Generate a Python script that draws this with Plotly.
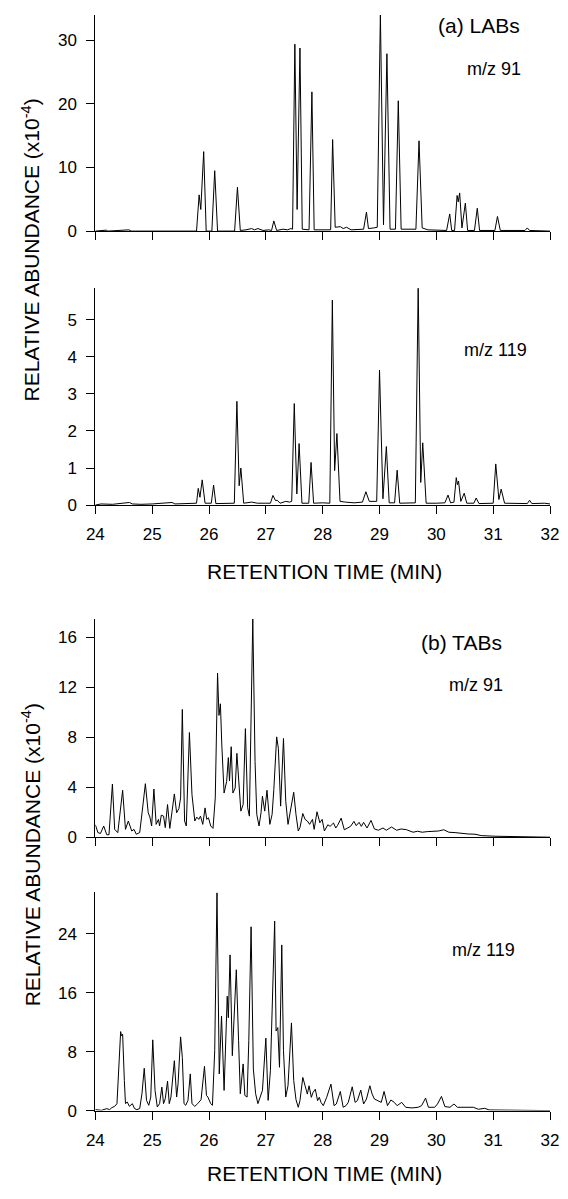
import plotly.graph_objects as go

# ---------------- data: (retention time [min], relative abundance) vertices ----------------
lab91 = [
    (24.0, 0), (24.19, 0.15), (24.22, 0), (24.59, 0.2), (24.63, 0), (25.78, 0),
    (25.826, 5.7), (25.855, 3.4), (25.906, 12.5), (25.95, 0), (26.05, 0), (26.10, 9.5), (26.15, 0),
    (26.45, 0), (26.50, 6.9), (26.55, 0.1), (26.65, 0.2), (26.75, 0.4), (26.80, 0.2), (26.86, 0.4),
    (26.95, 0.1), (27.05, 0.2), (27.10, 0.1), (27.14, 1.6), (27.19, 0.1), (27.30, 0.3), (27.38, 0.2),
    (27.44, 0.4), (27.47, 0.3), (27.51, 29.4), (27.55, 3.4), (27.60, 28.8), (27.64, 0.3), (27.76, 0.2),
    (27.81, 21.9), (27.85, 0.2), (28.14, 0.2), (28.175, 14.4), (28.22, 0.6), (28.31, 0.7), (28.36, 0.4),
    (28.42, 0.6), (28.50, 0.2), (28.60, 0.2), (28.72, 0.3), (28.77, 3.0), (28.805, 0.4), (28.90, 0.5),
    (28.96, 0.6), (29.015, 34.2), (29.07, 1.0), (29.13, 27.9), (29.185, 0.3), (29.28, 0.3), (29.33, 20.5),
    (29.38, 0.3), (29.64, 0.3), (29.695, 14.2), (29.75, 0.5), (29.85, 0.2), (30.18, 0.1), (30.235, 2.7),
    (30.27, 0.1), (30.32, 0.1), (30.365, 5.6), (30.385, 4.6), (30.41, 6.0), (30.45, 0.5), (30.51, 4.4),
    (30.55, 0.1), (30.67, 0.1), (30.72, 3.6), (30.76, 0.1), (31.03, 0.1), (31.075, 2.3), (31.125, 0.1),
    (31.56, 0.1), (31.60, 0.5), (31.64, 0.1), (32.0, 0),
]

lab119 = [
    (24.0, 0), (24.1, 0.03), (24.3, 0.02), (24.6, 0.07), (24.65, 0.03), (24.8, 0.02), (25.0, 0.03),
    (25.35, 0.07), (25.4, 0.03), (25.6, 0.04), (25.78, 0.05), (25.81, 0.45), (25.84, 0.21), (25.88, 0.68),
    (25.93, 0.05), (26.04, 0.05), (26.08, 0.54), (26.12, 0.04), (26.445, 0.05), (26.49, 2.8), (26.53, 0.52),
    (26.56, 1.0), (26.61, 0.05), (26.75, 0.08), (26.85, 0.05), (27.0, 0.05), (27.08, 0.05), (27.125, 0.26),
    (27.17, 0.12), (27.2, 0.13), (27.25, 0.05), (27.35, 0.1), (27.42, 0.08), (27.455, 0.1), (27.50, 2.74),
    (27.545, 0.3), (27.585, 1.66), (27.635, 0.05), (27.755, 0.05), (27.795, 1.15), (27.84, 0.05),
    (28.0, 0.06), (28.125, 0.05), (28.17, 5.53), (28.21, 0.93), (28.25, 1.93), (28.305, 0.1), (28.4, 0.08),
    (28.55, 0.06), (28.70, 0.08), (28.76, 0.36), (28.82, 0.1), (28.95, 0.1), (29.0, 3.64), (29.06, 0.17),
    (29.12, 1.58), (29.17, 0.06), (29.265, 0.06), (29.31, 0.94), (29.355, 0.05), (29.5, 0.05), (29.63, 0.06),
    (29.68, 5.89), (29.725, 0.61), (29.76, 1.68), (29.82, 0.05), (30.0, 0.05), (30.15, 0.06), (30.205, 0.27),
    (30.25, 0.06), (30.31, 0.08), (30.35, 0.74), (30.37, 0.55), (30.39, 0.65), (30.43, 0.1), (30.49, 0.32),
    (30.535, 0.05), (30.66, 0.05), (30.70, 0.19), (30.75, 0.04), (31.0, 0.05), (31.045, 1.11), (31.10, 0.15),
    (31.14, 0.43), (31.2, 0.05), (31.4, 0.05), (31.6, 0.04), (31.64, 0.13), (31.68, 0.04), (31.9, 0.05),
    (32.0, 0.03),
]

tab91 = [
    (24.0, 1.0), (24.045, 0.37), (24.09, 0.3), (24.147, 0.9), (24.20, 0.2), (24.24, 0.2), (24.30, 4.26),
    (24.34, 0.63), (24.395, 0.37), (24.48, 3.76), (24.53, 0.63), (24.58, 1.3), (24.64, 0.5), (24.68, 0.63),
    (24.72, 0.24), (24.78, 0.37), (24.825, 2.09), (24.88, 4.29), (24.93, 1.96), (24.96, 1.61), (24.99, 0.9),
    (25.03, 3.86), (25.07, 1.03), (25.11, 1.43), (25.13, 0.9), (25.16, 1.77), (25.20, 1.69), (25.23, 0.77),
    (25.27, 2.62), (25.31, 0.71), (25.35, 2.09), (25.39, 3.47), (25.43, 1.96), (25.47, 2.3), (25.50, 3.15),
    (25.53, 10.24), (25.57, 1.3), (25.60, 0.9), (25.655, 8.39), (25.70, 3.41), (25.75, 1.3), (25.785, 1.61),
    (25.82, 1.43), (25.85, 1.69), (25.89, 1.03), (25.93, 2.35), (25.96, 1.43), (25.99, 1.56), (26.03, 0.9),
    (26.07, 0.71), (26.11, 3.15), (26.15, 13.15), (26.175, 9.76), (26.20, 10.69), (26.225, 7.38),
    (26.265, 3.54), (26.31, 4.47), (26.34, 6.38), (26.36, 4.52), (26.39, 7.25), (26.42, 3.54), (26.46, 3.94),
    (26.49, 6.72), (26.53, 3.94), (26.56, 2.09), (26.60, 2.62), (26.64, 8.7), (26.68, 2.35), (26.71, 1.69),
    (26.77, 17.49), (26.81, 6.06), (26.84, 1.83), (26.88, 0.9), (26.915, 1.96), (26.94, 3.28), (26.98, 2.09),
    (27.02, 3.76), (27.07, 1.03), (27.11, 1.83), (27.14, 3.81), (27.19, 8.04), (27.22, 7.12), (27.26, 2.49),
    (27.31, 7.91), (27.35, 2.88), (27.39, 1.03), (27.435, 2.09), (27.49, 3.6), (27.53, 1.83), (27.57, 0.5),
    (27.60, 0.77), (27.65, 1.9), (27.69, 1.43), (27.73, 1.3), (27.77, 1.03), (27.82, 1.43), (27.85, 0.63),
    (27.90, 2.04), (27.95, 1.16), (27.99, 1.43), (28.03, 0.5), (28.09, 1.0), (28.13, 0.87), (28.19, 1.14),
    (28.23, 0.74), (28.26, 0.93), (28.325, 1.53), (28.38, 0.6), (28.44, 0.74), (28.49, 0.87), (28.55, 1.27),
    (28.59, 0.93), (28.64, 1.19), (28.68, 0.87), (28.72, 1.19), (28.78, 0.74), (28.85, 1.35), (28.91, 0.66),
    (28.98, 0.56), (29.06, 0.74), (29.12, 0.56), (29.21, 0.82), (29.30, 0.56), (29.38, 0.66), (29.47, 0.61),
    (29.53, 0.48), (29.59, 0.4), (29.67, 0.48), (29.75, 0.4), (29.84, 0.45), (29.93, 0.45), (30.04, 0.5),
    (30.13, 0.6), (30.22, 0.4), (30.33, 0.37), (30.45, 0.29), (30.56, 0.26), (30.68, 0.24), (30.79, 0.13),
    (31.03, 0.08), (31.37, 0.05), (32.0, 0.0),
]

tab119 = [
    (24.0, 0.13), (24.11, 0.04), (24.20, 0.27), (24.25, 0.13), (24.29, 0.4), (24.34, 0.58), (24.38, 0.94),
    (24.42, 6.3), (24.445, 10.72), (24.46, 10.14), (24.48, 10.36), (24.51, 4.08), (24.53, 0.94), (24.56, 1.17),
    (24.60, 0.58), (24.65, 0.94), (24.69, 0.27), (24.73, 0.13), (24.78, 0.27), (24.82, 2.29), (24.86, 5.74),
    (24.90, 1.39), (24.94, 0.72), (24.975, 1.84), (25.01, 9.6), (25.05, 2.74), (25.09, 0.49), (25.13, 0.94),
    (25.17, 3.19), (25.20, 0.94), (25.23, 1.62), (25.27, 3.99), (25.30, 0.94), (25.33, 1.84), (25.35, 3.63),
    (25.39, 6.77), (25.43, 1.84), (25.455, 3.63), (25.50, 10.0), (25.53, 7.22), (25.56, 0.94), (25.59, 0.72),
    (25.63, 1.39), (25.67, 4.98), (25.70, 0.94), (25.75, 0.58), (25.80, 0.94), (25.86, 1.48), (25.92, 6.01),
    (25.955, 2.06), (25.98, 1.84), (26.03, 0.94), (26.06, 0.72), (26.10, 8.12), (26.14, 29.56), (26.18, 4.98),
    (26.22, 12.83), (26.265, 2.74), (26.30, 10.81), (26.32, 15.52), (26.34, 12.6), (26.37, 21.13),
    (26.41, 7.45), (26.445, 13.5), (26.48, 19.11), (26.52, 9.47), (26.55, 2.29), (26.60, 6.33), (26.63, 2.06),
    (26.67, 1.84), (26.70, 9.47), (26.74, 24.94), (26.78, 5.65), (26.82, 2.29), (26.86, 0.94), (26.90, 1.84),
    (26.94, 2.74), (27.0, 9.83), (27.04, 1.39), (27.08, 5.43), (27.12, 15.3), (27.155, 25.71), (27.18, 10.81),
    (27.21, 11.26), (27.24, 5.88), (27.28, 22.48), (27.31, 8.12), (27.35, 1.84), (27.39, 3.41), (27.45, 11.9),
    (27.49, 4.08), (27.53, 1.5), (27.57, 0.45), (27.60, 1.35), (27.65, 4.5), (27.69, 3.14), (27.73, 2.24),
    (27.76, 3.37), (27.80, 1.8), (27.83, 2.47), (27.87, 2.9), (27.91, 1.35), (27.94, 1.8), (27.97, 1.12),
    (28.01, 0.67), (28.07, 1.8), (28.145, 3.59), (28.20, 0.67), (28.24, 0.9), (28.31, 2.6), (28.36, 0.45),
    (28.41, 0.67), (28.45, 1.12), (28.52, 3.23), (28.57, 1.12), (28.61, 1.35), (28.67, 2.78), (28.72, 0.9),
    (28.77, 1.57), (28.83, 3.37), (28.87, 2.24), (28.91, 1.57), (28.96, 1.35), (29.03, 1.12), (29.08, 2.6),
    (29.14, 0.67), (29.20, 1.44), (29.26, 1.12), (29.31, 0.67), (29.39, 1.12), (29.46, 0.45), (29.57, 0.36),
    (29.68, 0.45), (29.74, 0.67), (29.81, 1.7), (29.86, 0.45), (29.97, 0.45), (30.02, 0.9), (30.09, 1.93),
    (30.15, 0.54), (30.24, 0.45), (30.31, 0.9), (30.37, 0.45), (30.48, 0.45), (30.60, 0.36), (30.65, 0.45),
    (30.74, 0.18), (30.85, 0.31), (30.93, 0.09), (31.22, 0.04), (32.0, 0.0),
]

x_ticks = [24, 25, 26, 27, 28, 29, 30, 31, 32]
y_ranges = [[0, 34], [0, 5.85], [0, 17.5], [0, 29.6]]
y_dticks = [10, 1, 4, 8]

# ---------------- layout geometry ----------------
# The page keeps the browser's default 8px body margin, so the figure is sized
# to fill the 568x1199 window exactly; positions below are given in window pixels.
WIN_W, WIN_H, OFF = 568, 1199, 8
W, H = WIN_W - 2 * OFF, WIN_H - 2 * OFF
FONT = "Liberation Sans, Arial, Helvetica, sans-serif"
panel_px = [(15, 233), (290.7, 509.3), (624, 844.3), (900, 1120)]   # top, bottom (window px)
x_left, x_right = 89, 559


def px_x(px):
    return (px - OFF) / W


def px_y(py):
    return 1 - (py - OFF) / H


fig = go.Figure()
series = [lab91, lab119, tab91, tab119]
for i, pts in enumerate(series, start=1):
    xs = [p[0] for p in pts]
    ys = [p[1] for p in pts]
    sfx = "" if i == 1 else str(i)
    fig.add_trace(go.Scatter(x=xs, y=ys, mode="lines",
                             line=dict(color="black", width=1),
                             xaxis="x" + sfx, yaxis="y" + sfx,
                             showlegend=False, hoverinfo="skip"))

layout = dict(
    width=W, height=H,
    margin=dict(l=0, r=0, t=0, b=0),
    paper_bgcolor="white", plot_bgcolor="white",
    font=dict(family=FONT, color="black", size=17),
    showlegend=False,
)
for i in range(1, 5):
    sfx = "" if i == 1 else str(i)
    top, bot = panel_px[i - 1]
    layout["xaxis" + sfx] = dict(
        domain=[px_x(x_left), px_x(x_right)], anchor="y" + sfx, range=[24, 32],
        tickmode="array", tickvals=x_ticks, ticktext=[str(v) for v in x_ticks],
        showticklabels=(i in (2, 4)), ticks="outside", ticklen=8, tickwidth=1,
        tickcolor="black", showline=True, linecolor="black", linewidth=1,
        showgrid=False, zeroline=False, tickfont=dict(size=17, family=FONT),
        ticklabelstandoff=6, ticklabeloverflow="allow",
    )
    layout["yaxis" + sfx] = dict(
        domain=[px_y(bot), px_y(top)], anchor="x" + sfx, range=y_ranges[i - 1],
        dtick=y_dticks[i - 1], tick0=0, ticks="outside", ticklen=8, tickwidth=1,
        tickcolor="black", showline=True, linecolor="black", linewidth=1,
        showgrid=False, zeroline=False, tickfont=dict(size=17, family=FONT),
        ticklabelstandoff=6,
    )
fig.update_layout(**layout)


def ann(text, px, py, size, rot=0):
    fig.add_annotation(text=text, x=px_x(px), y=px_y(py), xref="paper", yref="paper",
                       xanchor="center", yanchor="middle", showarrow=False,
                       textangle=rot, font=dict(size=size, family=FONT, color="black"))


ann("(a) LABs", 486, 26, 21)
ann("m/z 91", 501, 70, 18)
ann("m/z 119", 503, 353, 18)
ann("(b) TABs", 467, 648, 21)
ann("m/z 91", 482, 691, 18)
ann("m/z 119", 490, 958, 18)
ann("RETENTION TIME (MIN)", 326, 576, 21)
ann("RETENTION TIME (MIN)", 326, 1183, 21)
ann("RELATIVE ABUNDANCE (x10<sup>-4</sup>)", 22, 252, 21, rot=-90)
ann("RELATIVE ABUNDANCE (x10<sup>-4</sup>)", 22, 862, 21, rot=-90)

fig.write_html("out.html", config={"displayModeBar": False})
